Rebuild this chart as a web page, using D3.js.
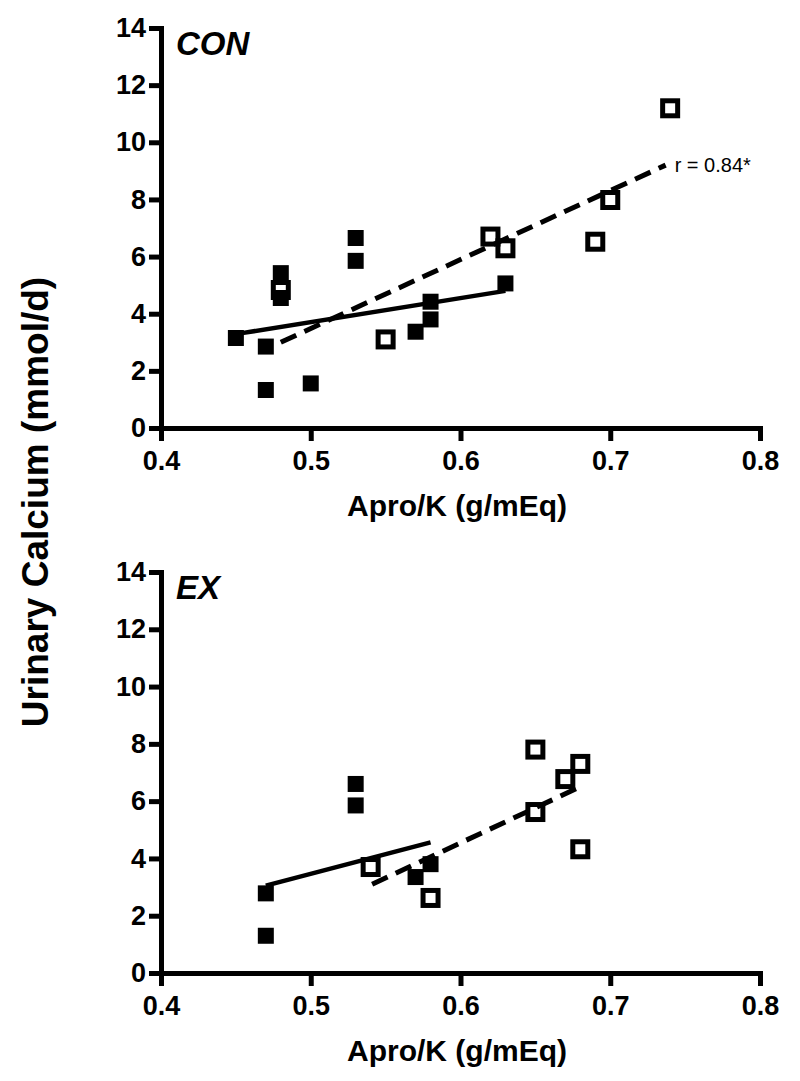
<!DOCTYPE html>
<html>
<head>
<meta charset="utf-8">
<script src="https://cdn.jsdelivr.net/npm/d3@7"></script>
<style>
  body { margin: 0; background: #fff; }
  svg text { font-family: "Liberation Sans", Arial, sans-serif; }
  .axis path, .axis line { stroke: #000; stroke-width: 5px; }
  .axis text { font-size: 27px; font-weight: bold; fill: #000; }
</style>
</head>
<body>
<div id="container"></div>
<script>
// Chart size
var width = 800;
var height = 1081;

// Axis ticks
var xTicks = [0.4, 0.5, 0.6, 0.7, 0.8];
var yTicks = [0, 2, 4, 6, 8, 10, 12, 14];

// CON panel - filled squares
var conFilledX = [0.45, 0.47, 0.47, 0.48, 0.48, 0.50, 0.53, 0.53, 0.57, 0.58, 0.58, 0.63];
var conFilledY = [3.15, 2.85, 1.33, 5.42, 4.55, 1.56, 6.65, 5.85, 3.37, 3.80, 4.42, 5.06];
// CON panel - open squares
var conOpenX = [0.48, 0.55, 0.62, 0.63, 0.69, 0.70, 0.74];
var conOpenY = [4.83, 3.10, 6.70, 6.29, 6.52, 7.98, 11.19];
// CON regression lines (start / end)
var conSolidX = [0.454, 0.63];
var conSolidY = [3.32, 4.80];
var conDashX = [0.48, 0.737];
var conDashY = [3.00, 9.20];

// EX panel - filled squares
var exFilledX = [0.47, 0.47, 0.53, 0.53, 0.57, 0.58];
var exFilledY = [2.78, 1.30, 6.60, 5.85, 3.35, 3.80];
// EX panel - open squares
var exOpenX = [0.54, 0.58, 0.65, 0.65, 0.67, 0.68, 0.68];
var exOpenY = [3.70, 2.62, 7.80, 5.62, 6.77, 7.30, 4.32];
// EX regression lines
var exSolidX = [0.47, 0.58];
var exSolidY = [3.05, 4.56];
var exDashX = [0.541, 0.68];
var exDashY = [3.10, 6.50];

var svg = d3.select("#container")
  .append("svg")
  .attr("width", width)
  .attr("height", height);

function zip(xs, ys) {
  return xs.map(function (d, i) { return [d, ys[i]]; });
}

// draw one panel
function drawPanel(opt) {
  var x = d3.scaleLinear().domain([0.4, 0.8]).range([161, 760]);
  var y = d3.scaleLinear().domain([0, 14]).range([opt.bottom, opt.top]);

  var g = svg.append("g");

  // regression lines
  var line = d3.line()
    .x(function (d) { return x(d[0]); })
    .y(function (d) { return y(d[1]); });

  g.append("path")
    .datum(zip(opt.solidX, opt.solidY))
    .attr("d", line)
    .style("fill", "none")
    .style("stroke", "#000")
    .style("stroke-width", "4.5px");

  g.append("path")
    .datum(zip(opt.dashX, opt.dashY))
    .attr("d", line)
    .style("fill", "none")
    .style("stroke", "#000")
    .style("stroke-width", "5px")
    .style("stroke-dasharray", "17,9");

  // open squares
  g.selectAll(".open")
    .data(zip(opt.openX, opt.openY))
    .enter()
    .append("rect")
    .attr("x", function (d) { return x(d[0]) - 7.5; })
    .attr("y", function (d) { return y(d[1]) - 7.5; })
    .attr("width", 15)
    .attr("height", 15)
    .style("fill", "none")
    .style("stroke", "#000")
    .style("stroke-width", "5px");

  // filled squares
  g.selectAll(".filled")
    .data(zip(opt.filledX, opt.filledY))
    .enter()
    .append("rect")
    .attr("x", function (d) { return x(d[0]) - 8; })
    .attr("y", function (d) { return y(d[1]) - 8; })
    .attr("width", 16)
    .attr("height", 16)
    .style("fill", "#000");

  // axes
  g.append("g")
    .attr("class", "axis")
    .attr("transform", "translate(0," + opt.bottom + ")")
    .call(d3.axisBottom(x).tickValues(xTicks).tickSize(13).tickSizeOuter(0).tickPadding(10)
      .tickFormat(d3.format(".1f")));
  g.append("g")
    .attr("class", "axis")
    .attr("transform", "translate(161,0)")
    .call(d3.axisLeft(y).tickValues(yTicks).tickSize(12).tickSizeOuter(0).tickPadding(3));

  g.selectAll(".axis .domain").style("stroke-linecap", "square");

  // panel label
  g.append("text")
    .attr("x", 176)
    .attr("y", opt.top + 27)
    .style("font-size", "33px")
    .style("font-weight", "bold")
    .style("font-style", "italic")
    .text(opt.label);

  // x axis title
  g.append("text")
    .attr("x", 457)
    .attr("y", opt.bottom + 88)
    .attr("text-anchor", "middle")
    .style("font-size", "30px")
    .style("font-weight", "bold")
    .text("Apro/K (g/mEq)");

  return { x: x, y: y, g: g };
}

var con = drawPanel({
  top: 28, bottom: 428, label: "CON",
  filledX: conFilledX, filledY: conFilledY,
  openX: conOpenX, openY: conOpenY,
  solidX: conSolidX, solidY: conSolidY,
  dashX: conDashX, dashY: conDashY
});

drawPanel({
  top: 572, bottom: 973, label: "EX",
  filledX: exFilledX, filledY: exFilledY,
  openX: exOpenX, openY: exOpenY,
  solidX: exSolidX, solidY: exSolidY,
  dashX: exDashX, dashY: exDashY
});

// correlation note on CON dashed line
con.g.append("text")
  .attr("x", con.x(conDashX[1]) + 9)
  .attr("y", con.y(conDashY[1]) + 7)
  .style("font-size", "20px")
  .text("r = 0.84*");

// shared y axis title
svg.append("text")
  .attr("transform", "translate(48,502) rotate(-90)")
  .attr("text-anchor", "middle")
  .style("font-size", "37px")
  .style("font-weight", "bold")
  .text("Urinary Calcium (mmol/d)");
</script>
</body>
</html>
